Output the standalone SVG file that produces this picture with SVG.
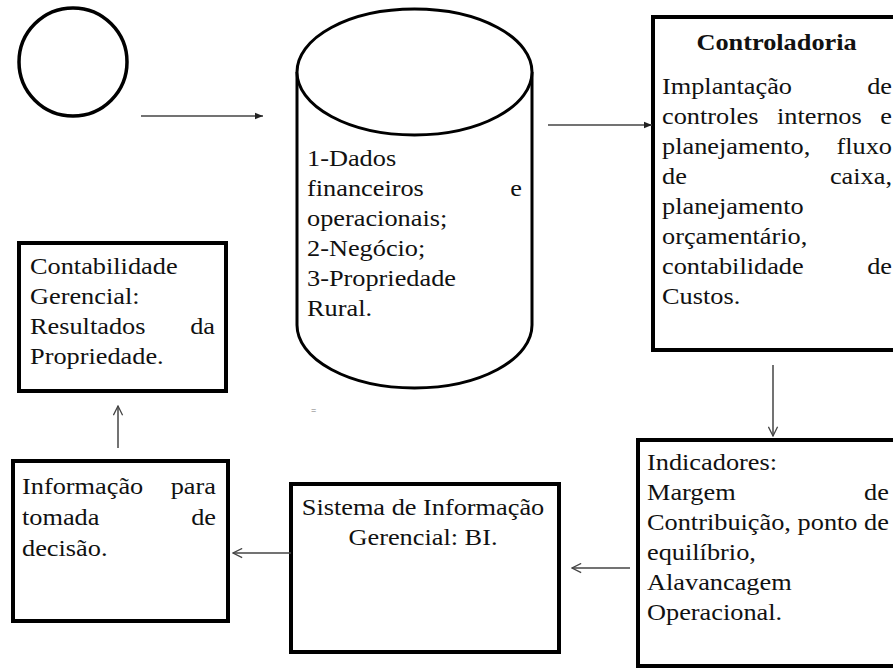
<svg xmlns="http://www.w3.org/2000/svg" width="893" height="668" viewBox="0 0 893 668">
<style>
  .box{fill:#fff;stroke:#000;stroke-width:4}
  .shadow{fill:none;stroke:#d8c6b6;stroke-width:2}
  .t{font-family:"Liberation Serif","Times New Roman",serif;font-size:22.5px;fill:#111}
  .b{font-weight:bold}
  .e{text-anchor:end}
  .m{text-anchor:middle}
  .conn{fill:none;stroke:#444;stroke-width:1.5}
</style>
<defs>
  <marker id="tri" viewBox="0 0 10 10" refX="10" refY="5" markerWidth="8" markerHeight="8" markerUnits="userSpaceOnUse" orient="auto">
    <path d="M0,1 L10,5 L0,9 z" fill="#222"/>
  </marker>
  <marker id="vee" viewBox="0 0 12 12" refX="11" refY="6" markerWidth="11" markerHeight="11" markerUnits="userSpaceOnUse" orient="auto">
    <path d="M1,1 L11,6 L1,11" fill="none" stroke="#444" stroke-width="1.4"/>
  </marker>
</defs>
<rect width="893" height="668" fill="#fff"/>

<g id="start">
  <circle cx="73" cy="62" r="54" fill="#fff" stroke="#000" stroke-width="3.5"/>
</g>

<g id="dados">
  <path d="M297,72 L297,325 A117.5,63 0 0 0 532,325 L532,72" fill="#fff" stroke="#000" stroke-width="3"/>
  <ellipse cx="414.5" cy="72" rx="117.5" ry="63" fill="#fff" stroke="#000" stroke-width="3"/>
  <g transform="translate(307,0) scale(1.17,1)">
    <text class="t" x="0" y="166">1-Dados</text>
    <text class="t" x="0" y="196">financeiros</text><text class="t e" x="183.8" y="196">e</text>
    <text class="t" x="0" y="226">operacionais;</text>
    <text class="t" x="0" y="256">2-Negócio;</text>
    <text class="t" x="0" y="286">3-Propriedade</text>
    <text class="t" x="0" y="316">Rural.</text>
  </g>
  <text x="311" y="413" font-family="Liberation Sans, sans-serif" font-size="9" fill="#777">=</text>
</g>

<g id="controladoria">
  <rect class="box" x="653" y="17" width="262" height="333"/>
  <g transform="translate(662,0) scale(1.17,1)">
    <text class="t b m" x="97.9" y="50">Controladoria</text>
    <text class="t" x="0" y="94">Implantação</text><text class="t e" x="196.6" y="94">de</text>
    <text class="t" x="0" y="124">controles</text><text class="t" x="98.3" y="124">internos</text><text class="t e" x="196.6" y="124">e</text>
    <text class="t" x="0" y="154">planejamento,</text><text class="t e" x="196.6" y="154">fluxo</text>
    <text class="t" x="0" y="184">de</text><text class="t e" x="196.6" y="184">caixa,</text>
    <text class="t" x="0" y="214">planejamento</text>
    <text class="t" x="0" y="244">orçamentário,</text>
    <text class="t" x="0" y="274">contabilidade</text><text class="t e" x="196.6" y="274">de</text>
    <text class="t" x="0" y="304">Custos.</text>
  </g>
</g>

<g id="indicadores">
  <rect class="box" x="638" y="440" width="270" height="226"/>
  <g transform="translate(647,0) scale(1.17,1)">
    <text class="t" x="0" y="470">Indicadores:</text>
    <text class="t" x="0" y="500">Margem</text><text class="t e" x="206.8" y="500">de</text>
    <text class="t" x="0" y="530">Contribuição,</text><text class="t" x="128.7" y="530">ponto</text><text class="t e" x="206.8" y="530">de</text>
    <text class="t" x="0" y="560">equilíbrio,</text>
    <text class="t" x="0" y="590">Alavancagem</text>
    <text class="t" x="0" y="620">Operacional.</text>
  </g>
</g>

<g id="sistema">
  <rect class="box" x="291" y="484" width="268" height="168"/>
  <g transform="translate(423,0) scale(1.17,1)">
    <text class="t m" x="0" y="515">Sistema de Informação</text>
    <text class="t m" x="0" y="545">Gerencial: BI.</text>
  </g>
</g>

<g id="informacao">
  <rect class="box" x="13" y="461" width="215" height="160"/>
  <g transform="translate(22,0) scale(1.17,1)">
    <text class="t" x="0" y="494">Informação</text><text class="t e" x="165.8" y="494">para</text>
    <text class="t" x="0" y="525">tomada</text><text class="t e" x="165.8" y="525">de</text>
    <text class="t" x="0" y="556">decisão.</text>
  </g>
</g>

<g id="contabilidade">
  <rect class="box" x="19" y="243" width="207" height="148"/>
  <g transform="translate(30,0) scale(1.17,1)">
    <text class="t" x="0" y="274">Contabilidade</text>
    <text class="t" x="0" y="304">Gerencial:</text>
    <text class="t" x="0" y="334">Resultados</text><text class="t e" x="158.1" y="334">da</text>
    <text class="t" x="0" y="364">Propriedade.</text>
  </g>
</g>

<g id="connectors">
  <line class="conn" x1="141" y1="116" x2="263" y2="116" marker-end="url(#tri)"/>
  <line class="conn" x1="548" y1="125" x2="652" y2="125" marker-end="url(#tri)"/>
  <line class="conn" x1="773" y1="365" x2="773" y2="436" marker-end="url(#vee)"/>
  <line class="conn" x1="630" y1="568" x2="572" y2="568" marker-end="url(#vee)"/>
  <line class="conn" x1="291" y1="553" x2="233" y2="553" marker-end="url(#vee)"/>
  <line class="conn" x1="118" y1="448" x2="118" y2="406" marker-end="url(#vee)"/>
</g>
</svg>
